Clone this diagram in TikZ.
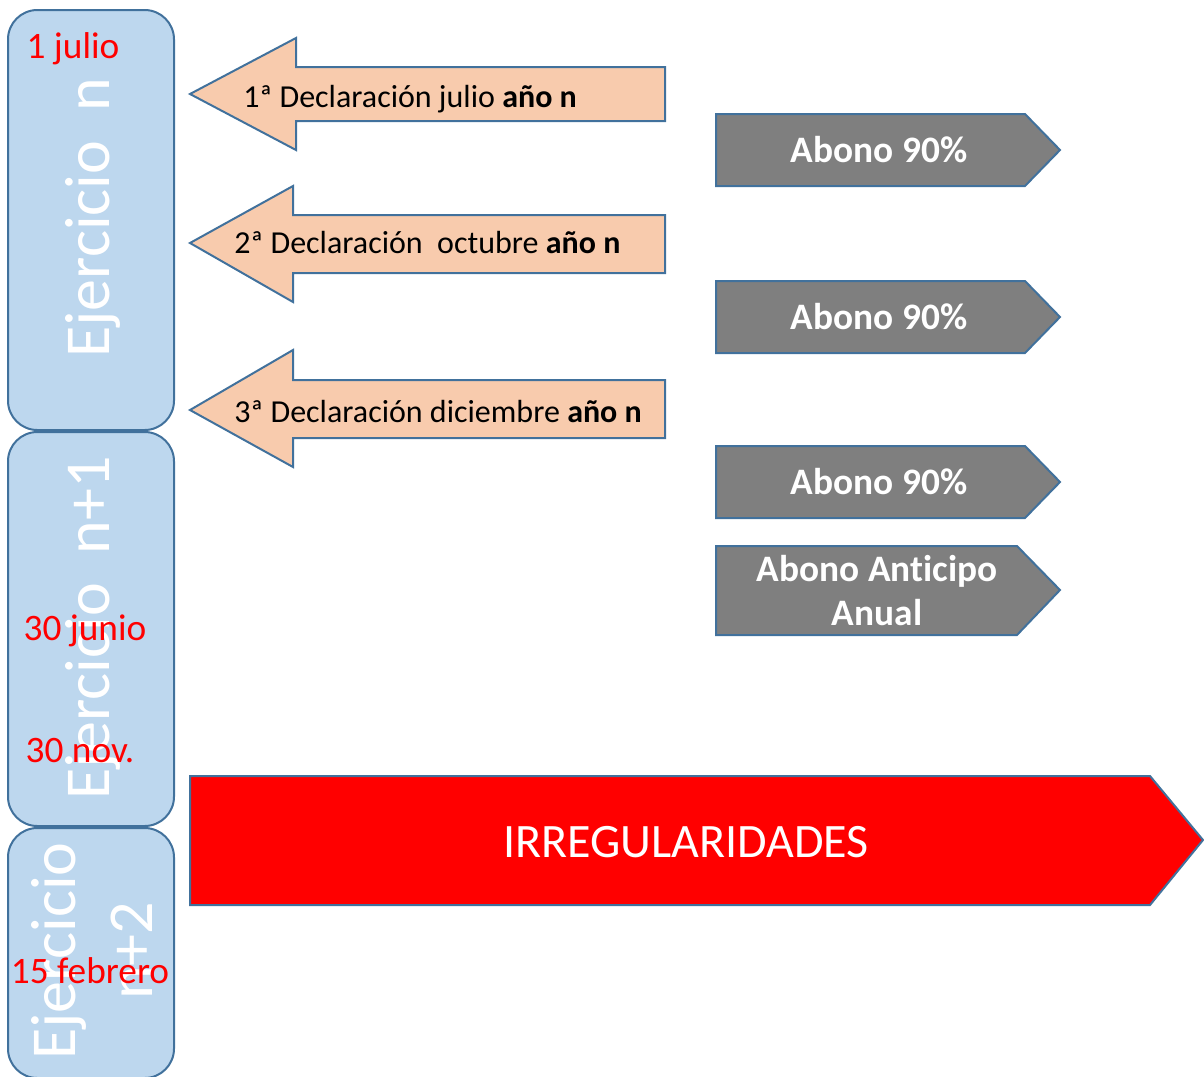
\documentclass[tikz,border=0pt]{standalone}
\usepackage{fontspec}
\setmainfont{Carlito}[Ligatures=NoCommon]
\definecolor{bord}{HTML}{41719C}
\definecolor{boxblue}{HTML}{BDD7EE}
\definecolor{peach}{HTML}{F8CBAD}
\definecolor{greyarrow}{HTML}{7F7F7F}
\definecolor{datered}{HTML}{FF0000}
\begin{document}
\begin{tikzpicture}[x=0.75pt,y=-0.75pt,
  yearbox/.style={draw=bord, line width=1.5pt, fill=boxblue, rounded corners=22pt},
  declarrow/.style={draw=bord, line width=1.5pt, fill=peach},
  abonoarrow/.style={draw=bord, line width=1.5pt, fill=greyarrow},
  irregarrow/.style={draw=bord, line width=1.5pt, fill=datered},
  yeartext/.style={white, rotate=90, inner sep=0pt, font=\fontsize{48}{58}\selectfont, align=center},
  datetext/.style={text=datered, anchor=base, inner sep=0pt, font=\fontsize{28}{30}\selectfont},
  decltext/.style={anchor=base west, inner sep=0pt, font=\fontsize{24}{28}\selectfont},
  abonotext/.style={white, anchor=base, inner sep=0pt, font=\bfseries\fontsize{28}{33}\selectfont},
  irregtext/.style={white, anchor=base, inner sep=0pt, font=\fontsize{36}{40}\selectfont}]
\useasboundingbox (0,0) rectangle (1204,1076);
% year boxes
\draw[yearbox] (8,10) rectangle (174,430);
\draw[yearbox] (8,432) rectangle (174,826);
\draw[yearbox] (8,828) rectangle (174,1078);
\node[yeartext] (ejn) at (93,218) {Ejercicio\ \ n};
\node[yeartext] (ejn1) at (93,628) {Ejercicio\ \ n+1};
\node[yeartext] (ejn2) at (92,951) {Ejercicio\\n+2};
% dates
\node[datetext] (d1) at (73,58) {1 julio};
\node[datetext] (d2) at (85,640) {30 junio};
\node[datetext] (d3) at (80,762) {30 nov.};
\node[datetext] (d4) at (90,983) {15 febrero};
% declaration arrows
\draw[declarrow] (190,94) -- (296,38) -- (296,67) -- (665,67) -- (665,121) -- (296,121) -- (296,150) -- cycle;
\draw[declarrow] (190,243) -- (293,186) -- (293,215) -- (665,215) -- (665,273) -- (293,273) -- (293,302) -- cycle;
\draw[declarrow] (190,410) -- (293,350) -- (293,380) -- (665,380) -- (665,438) -- (293,438) -- (293,467) -- cycle;
\node[decltext] (t1) at (243,107) {1ª Declaración julio \textbf{año n}};
\node[decltext] (t2) at (234,253) {2ª Declaración\ \ octubre \textbf{año n}};
\node[decltext] (t3) at (234,422) {3ª Declaración diciembre \textbf{año n}};
% abono arrows
\draw[abonoarrow] (716,114) -- (1025,114) -- (1060,150) -- (1025,186) -- (716,186) -- cycle;
\draw[abonoarrow] (716,281) -- (1025,281) -- (1060,317) -- (1025,353) -- (716,353) -- cycle;
\draw[abonoarrow] (716,446) -- (1025,446) -- (1060,482) -- (1025,518) -- (716,518) -- cycle;
\draw[abonoarrow] (716,546) -- (1017,546) -- (1060,590) -- (1017,635) -- (716,635) -- cycle;
\node[abonotext] (a1) at (879,162) {Abono 90\%};
\node[abonotext] (a2) at (879,329) {Abono 90\%};
\node[abonotext] (a3) at (879,494) {Abono 90\%};
\node[abonotext] (a4) at (877,581) {Abono Anticipo};
\node[abonotext] (a5) at (877,625) {Anual};
% irregularidades
\draw[irregarrow] (190,776) -- (1150,776) -- (1203,840) -- (1150,905) -- (190,905) -- cycle;
\node[irregtext] (irr) at (686,857) {IRREGULARIDADES};
\end{tikzpicture}
\end{document}
